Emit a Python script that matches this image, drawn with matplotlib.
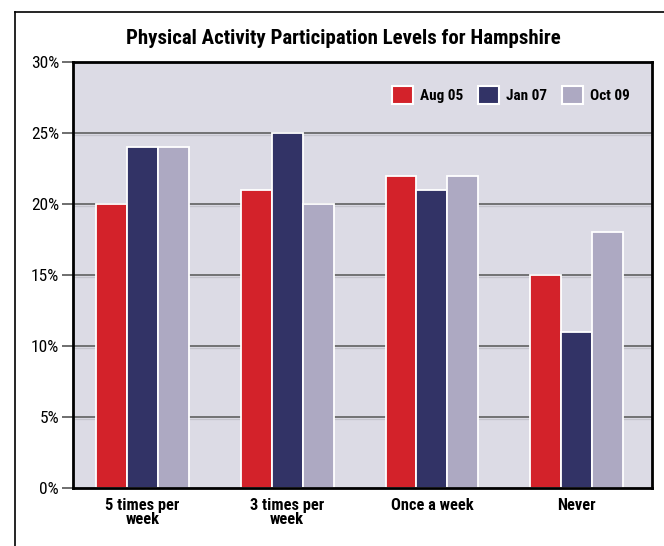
import matplotlib.pyplot as plt
import matplotlib.transforms as mtransforms
from matplotlib import font_manager
from matplotlib.font_manager import FontProperties
from matplotlib.lines import Line2D
import numpy as np

categories = ["5 times per\nweek", "3 times per\nweek", "Once a week", "Never"]
series_names = ["Aug 05", "Jan 07", "Oct 09"]
aug05 = [20, 21, 22, 15]
jan07 = [24, 25, 21, 11]
oct09 = [24, 20, 22, 18]
y_ticks = [0, 5, 10, 15, 20, 25, 30]
y_labels = ["0%", "5%", "10%", "15%", "20%", "25%", "30%"]

colors = ["#D3222A", "#323366", "#ADA9C2"]
bg = "#DCDBE5"
W, H = 664, 546


def wnum(f):
    w = f.weight
    if isinstance(w, str):
        return font_manager.weight_dict.get(w, 400)
    return w


# pick condensed font files directly (regular and bold)
cond = [f for f in font_manager.fontManager.ttflist
        if ("Narrow" in f.name or "Condensed" in f.name or "Narrow" in f.fname
            or "Condensed" in f.fname) and f.style == "normal"]
pref = ["Liberation Sans Narrow", "Roboto Condensed", "Open Sans Condensed", "Noto Sans"]
cond.sort(key=lambda f: next((i for i, p in enumerate(pref) if p in f.name), 9))
reg = [f for f in cond if 380 <= wnum(f) <= 450]
bold = [f for f in cond if wnum(f) >= 700 or "Bold" in f.fname]


def fp(size, b):
    lst = bold if b else reg
    if lst:
        return FontProperties(fname=lst[0].fname, size=size)
    return FontProperties(family="Liberation Sans", weight="bold" if b else "normal",
                          size=size * 0.86)


fig = plt.figure(figsize=(6.64, 5.46), dpi=100)
ax = fig.add_axes([73 / W, 1 - 488 / H, (652 - 73) / W, (488 - 62) / H])
ax.set_facecolor(bg)

# gridlines: dark line with light line just below
for v in y_ticks[1:-1]:
    ax.axhline(v, color="#555555", lw=1.1, zorder=1)
    off = mtransforms.offset_copy(ax.transData, fig=fig, x=0, y=-1.2, units="points")
    ax.plot([-0.5, 3.5], [v, v], color="#c4c3cc", lw=0.9, zorder=1, transform=off)

x = np.arange(len(categories))
w = 0.214
for i, (vals, name) in enumerate(zip([aug05, jan07, oct09], series_names)):
    ax.bar(x + (i - 1) * w - 0.02, vals, width=w, color=colors[i], edgecolor="white",
           linewidth=1.3, label=name, zorder=3)

ax.set_xlim(-0.5, 3.5)
ax.set_ylim(0, 30)
ax.set_yticks(y_ticks)
ax.set_yticklabels(y_labels, fontproperties=fp(12.5, False))
ax.set_xticks(x - 0.02)
ax.set_xticklabels(categories, fontproperties=fp(11.8, True), linespacing=0.9)
ax.tick_params(axis="y", length=8, width=1.2, color="#555555", pad=2)
ax.tick_params(axis="x", length=0, pad=7)
for s in ax.spines.values():
    s.set_linewidth(2)
    s.set_color("black")
    s.set_zorder(5)

leg = ax.legend(loc="center right", bbox_to_anchor=(0.972, 0.922), ncol=3, frameon=False,
                prop=fp(11, True), handlelength=1.4, handleheight=1.4,
                handletextpad=0.45, columnspacing=0.95, borderaxespad=0)
for h in leg.legend_handles:
    h.set_edgecolor("white")
    h.set_linewidth(1.5)

fig.text(343 / W, 1 - 38 / H, "Physical Activity Participation Levels for Hampshire",
         ha="center", va="center", fontproperties=fp(15, True))

# outer frame, running off right and bottom
fig.add_artist(Line2D([15 / W, 15 / W], [0, 1 - 12 / H], color="black", lw=1.2,
                      transform=fig.transFigure))
fig.add_artist(Line2D([15 / W, 1], [1 - 12 / H, 1 - 12 / H], color="black", lw=1.2,
                      transform=fig.transFigure))

fig.savefig("out.png", dpi=100)
